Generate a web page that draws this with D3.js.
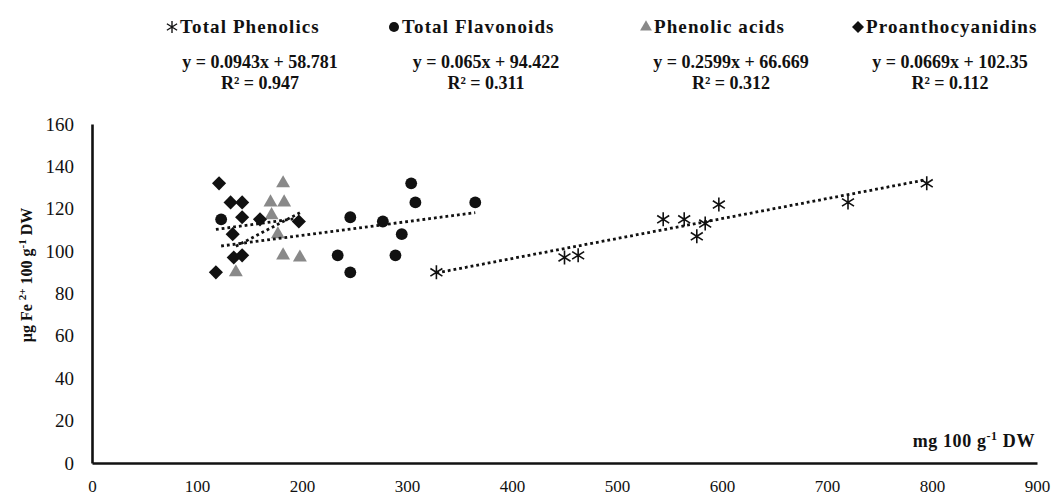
<!DOCTYPE html>
<html>
<head>
<meta charset="utf-8">
<script src="https://cdn.jsdelivr.net/npm/d3@7"></script>
<style>
  body { margin: 0; background: #fff; }
  svg { display: block; }
  text { font-family: "Liberation Serif", "Times New Roman", serif; fill: #111; }
</style>
</head>
<body>
<svg id="chart" width="1052" height="496"></svg>
<script>
// series
const seriesNames = ["Total Phenolics", "Total Flavonoids", "Phenolic acids", "Proanthocyanidins"];

const phenolicsX = [328, 450, 463, 544, 564, 576, 584, 597, 720, 795];
const phenolicsY = [90, 97, 98, 115, 115, 107, 113, 122, 123, 132];

const flavonoidsX = [123, 234, 246, 246, 277, 289, 295, 304, 308, 365];
const flavonoidsY = [115, 98, 116, 90, 114, 98, 108, 132, 123, 123];

const acidsX = [137, 170, 171, 177, 182, 182, 183, 198];
const acidsY = [90, 123, 117, 108, 132, 98, 123, 97];

const proanthoX = [118, 121, 132, 134, 135, 143, 143, 143, 160, 197];
const proanthoY = [90, 132, 123, 108, 97, 123, 116, 98, 115, 114];

// trend line equations as printed
const slopes = [0.0943, 0.065, 0.2599, 0.0669];
const intercepts = [58.781, 94.422, 66.669, 102.35];
const equations = ["y = 0.0943x + 58.781", "y = 0.065x + 94.422", "y = 0.2599x + 66.669", "y = 0.0669x + 102.35"];
const rSquared = ["R² = 0.947", "R² = 0.311", "R² = 0.312", "R² = 0.112"];

const xTicks = [0, 100, 200, 300, 400, 500, 600, 700, 800, 900];
const yTicks = [0, 20, 40, 60, 80, 100, 120, 140, 160];

const svg = d3.select("#chart");

const x = d3.scaleLinear().domain([0, 900]).range([92, 1037]);
const y = d3.scaleLinear().domain([0, 160]).range([463, 124]);

// axes
const yAxis = svg.append("g").attr("transform", `translate(${x(0)},0)`)
  .call(d3.axisLeft(y).tickValues(yTicks).tickSize(0).tickSizeOuter(0).tickPadding(18));
const xAxis = svg.append("g").attr("transform", `translate(0,${y(0)})`)
  .call(d3.axisBottom(x).tickValues(xTicks).tickSize(0).tickSizeOuter(0).tickPadding(17));

[xAxis, yAxis].forEach(a => {
  a.select(".domain").attr("stroke", "#111").attr("stroke-width", 2.6);
  a.selectAll(".tick text").attr("font-family", "Liberation Serif").attr("fill", "#111");
});
yAxis.selectAll(".tick text").attr("font-size", 19);
xAxis.selectAll(".tick text").attr("font-size", 17);

// markers
const asterisk = "M0,-7V7M-6,-3.8L6,3.8M-6,3.8L6,-3.8";
const circle = d3.symbol(d3.symbolCircle, 110)();
const triangle = d3.symbol(d3.symbolTriangle, 84)();
const diamond = d3.symbol(d3.symbolSquare, 100)();

const markerStyles = [
  { path: asterisk, fill: "none", stroke: "#111", width: 1.6, rotate: 0 },
  { path: circle, fill: "#111", stroke: "none", width: 0, rotate: 0 },
  { path: triangle, fill: "#898989", stroke: "none", width: 0, rotate: 0 },
  { path: diamond, fill: "#111", stroke: "none", width: 0, rotate: 45 }
];

const seriesData = [
  phenolicsX.map((v, i) => ({ x: v, y: phenolicsY[i] })),
  flavonoidsX.map((v, i) => ({ x: v, y: flavonoidsY[i] })),
  acidsX.map((v, i) => ({ x: v, y: acidsY[i] })),
  proanthoX.map((v, i) => ({ x: v, y: proanthoY[i] }))
];

seriesData.forEach((data, s) => {
  const m = markerStyles[s];
  svg.append("g").selectAll("path")
    .data(data)
    .enter()
    .append("path")
    .attr("d", m.path)
    .attr("transform", d => `translate(${x(d.x)},${y(d.y)}) rotate(${m.rotate})`)
    .attr("fill", m.fill)
    .attr("stroke", m.stroke)
    .attr("stroke-width", m.width);
});

// dotted trend lines over the markers
const line = d3.line().x(d => x(d.x)).y(d => y(d.y));
seriesData.forEach((data, s) => {
  const [lo, hi] = d3.extent(data, d => d.x);
  const ends = [lo, hi].map(v => ({ x: v, y: slopes[s] * v + intercepts[s] }));
  svg.append("path")
    .datum(ends)
    .attr("fill", "none")
    .attr("stroke", "#111")
    .attr("stroke-width", 2.8)
    .attr("stroke-dasharray", "2.8,3")
    .attr("d", line);
});

// legend with equations
const legendX = [172, 394, 646, 858];
const eqCenter = [260, 486, 731, 950];
seriesNames.forEach((name, s) => {
  const m = markerStyles[s];
  const g = svg.append("g");
  g.append("path")
    .attr("d", m.path)
    .attr("transform", `translate(${legendX[s]},27) rotate(${m.rotate}) scale(0.85)`)
    .attr("fill", m.fill)
    .attr("stroke", m.stroke)
    .attr("stroke-width", m.width);
  g.append("text")
    .attr("x", legendX[s] + 8)
    .attr("y", 33)
    .attr("font-size", 19)
    .attr("font-weight", "bold")
    .attr("letter-spacing", 1.1)
    .text(name);
  g.append("text")
    .attr("x", eqCenter[s])
    .attr("y", 68)
    .attr("text-anchor", "middle")
    .attr("font-size", 18)
    .attr("font-weight", "bold")
    .text(equations[s]);
  g.append("text")
    .attr("x", eqCenter[s])
    .attr("y", 89)
    .attr("text-anchor", "middle")
    .attr("font-size", 18)
    .attr("font-weight", "bold")
    .text(rSquared[s]);
});

// axis titles
const yTitle = svg.append("text")
  .attr("transform", "translate(32,275) rotate(-90)")
  .attr("text-anchor", "middle")
  .attr("font-size", 16)
  .attr("font-weight", "bold");
yTitle.append("tspan").text("µg Fe ");
yTitle.append("tspan").attr("font-size", 11).attr("dy", -6).text("2+");
yTitle.append("tspan").attr("dy", 6).text(" 100 g");
yTitle.append("tspan").attr("font-size", 11).attr("dy", -6).text("-1");
yTitle.append("tspan").attr("dy", 6).text(" DW");

const xTitle = svg.append("text")
  .attr("x", 1035)
  .attr("y", 447)
  .attr("text-anchor", "end")
  .attr("font-size", 18)
  .attr("font-weight", "bold")
  .attr("letter-spacing", 0.6);
xTitle.append("tspan").text("mg 100 g");
xTitle.append("tspan").attr("font-size", 12).attr("dy", -7).text("-1");
xTitle.append("tspan").attr("dy", 7).text(" DW");
</script>
</body>
</html>
